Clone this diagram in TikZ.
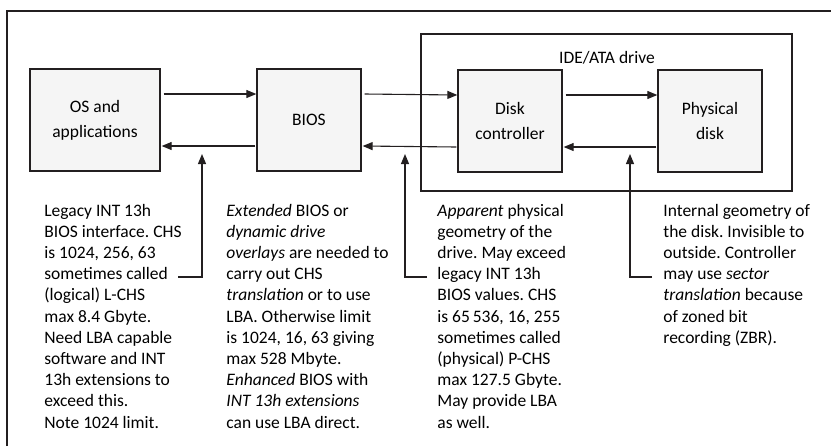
\documentclass[tikz,border=0pt]{standalone}
\usepackage{fontspec}
\setmainfont{Carlito}
\usepackage{xcolor}
\usetikzlibrary{arrows.meta,calc}
\definecolor{ink}{HTML}{231F20}
\definecolor{boxfill}{HTML}{F5F5F5}
\newcommand{\notefont}{\fontsize{8.75}{10.6}\selectfont}
\newcommand{\boxfont}{\fontsize{8.75}{12.4}\selectfont}
\frenchspacing

\begin{document}
\begin{tikzpicture}[x=0.5pt,y=-0.5pt,>={Triangle[length=5pt,width=4pt]},
 block/.style={draw=ink,line width=0.65pt,fill=boxfill,minimum width=52pt,
  minimum height=51pt,align=center,font=\boxfont,inner sep=0pt},
 note/.style={anchor=base west,align=left,inner sep=0pt,font=\notefont},
 link/.style={ink,line width=0.55pt}]
 \useasboundingbox (0,0) rectangle (831,446);
 \draw[ink,line width=0.65pt] (7,446)--(7,11)--(831,11);
 \node[draw=ink,line width=0.65pt,minimum width=185.5pt,minimum height=78.5pt,
  inner sep=0pt] (drive) at (606.5,112.5) {};
 \node[anchor=base,font=\boxfont] (drivename) at (607,63) {IDE/ATA drive};
 \node[block,minimum width=65pt] (os) at (95,120) {OS and\\applications};
 \node[block] (bios) at (309,120) {BIOS};
 \node[block] (ctrl) at (510,121) {Disk\\controller};
 \node[block] (phys) at (710,121) {Physical\\disk};
 \foreach \a/\b in {os/bios,bios/ctrl,ctrl/phys}{
  \draw[link,->] ([shift={(3,-26)}]\a.east)--([shift={(0,-26)}]\b.west);
  \draw[link,->] ([shift={(-1,26)}]\b.west)--([shift={(1,26)}]\a.east);
 }
 \foreach \i/\xa/\xb in {1/178/202,2/427/405,3/652/630}{
  \coordinate (c\i) at (\xa,277);
  \coordinate (t\i) at (\xb,154);
  \draw[link,->] (c\i) -| (t\i);
 }
 % base of a multi-line note is its last line
 \node[note] (legacy) at (44,428) {Legacy INT 13h\\BIOS interface. CHS\\is 1024, 256, 63\\
  sometimes called\\(logical) L-CHS\\max 8.4 Gbyte.\\Need LBA capable\\
  software and INT\\13h extensions to\\exceed this.\\Note 1024 limit.};
 \node[note] (extended) at (226,428) {\emph{Extended} BIOS or\\\emph{dynamic drive}\\
  \emph{overlays} are needed to\\carry out CHS\\\emph{translation} or to use\\
  LBA. Otherwise limit\\is 1024, 16, 63 giving\\max 528 Mbyte.\\
  \emph{Enhanced} BIOS with\\\emph{INT 13h extensions}\\can use LBA direct.};
 \node[note] (apparent) at (437,428) {\emph{Apparent} physical\\geometry of the\\
  drive. May exceed\\legacy INT 13h\\BIOS values. CHS\\is 65\,536, 16, 255\\
  sometimes called\\(physical) P-CHS\\max 127.5 Gbyte.\\May provide LBA\\as well.};
 \node[note] (internal) at (663,343.2) {Internal geometry of\\the disk. Invisible to\\
  outside. Controller\\may use \emph{sector}\\\emph{translation} because\\
  of zoned bit\\recording (ZBR).};
\end{tikzpicture}
\end{document}
